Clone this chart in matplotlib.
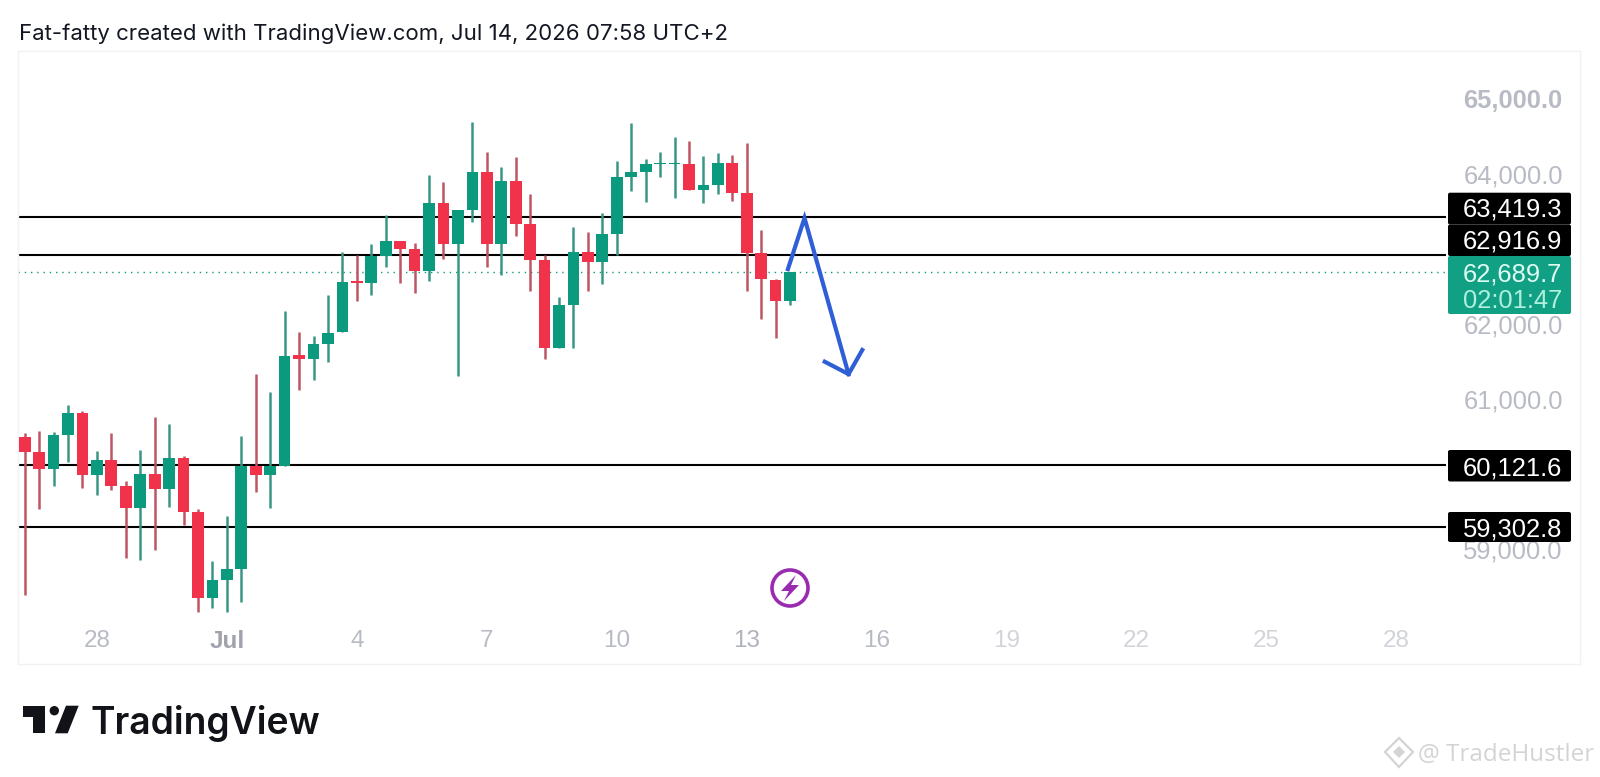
import matplotlib
matplotlib.use('Agg')
import matplotlib.pyplot as plt
from matplotlib.patches import Polygon, Circle, FancyBboxPatch

# 8h candles
opens = [60492, 60297, 60066, 60523, 60820, 59995, 60190, 59849, 59547, 60000,
         59800, 60221, 59498, 58350, 58594, 58740, 60115, 59995, 60115, 61583,
         61538, 61729, 61889, 62572, 62545, 62909, 63108, 62993, 62709, 63610,
         63064, 63521, 64018, 63064, 63902, 63330, 62851, 61676, 62252, 62962,
         62825, 63197, 63951, 64022, 64124, 64133, 64133, 63778, 63854, 64142,
         63743, 62944, 62590, 62306]
closes = [60292, 60066, 60523, 60820, 59995, 60190, 59849, 59547, 60000, 59800,
          60221, 59498, 58350, 58594, 58740, 60115, 59995, 60115, 61578, 61538,
          61729, 61884, 62558, 62550, 62909, 63108, 62993, 62709, 63610, 63064,
          63521, 64018, 63064, 63902, 63330, 62856, 61676, 62252, 62962, 62825,
          63193, 63951, 64018, 64124, 64137, 64146, 63778, 63849, 64142, 63743,
          62949, 62594, 62306, 62690]
highs = [60545, 60581, 60558, 60926, 60847, 60314, 60545, 59915, 60323, 60758,
         60665, 60248, 59534, 58851, 59445, 60510, 61334, 61095, 62177, 61893,
         61844, 62386, 62953, 62913, 63064, 63445, 63108, 63073, 63982, 63893,
         63521, 64683, 64293, 64093, 64226, 63729, 62913, 62363, 63286, 63228,
         63472, 64173, 64678, 64195, 64284, 64492, 64434, 64235, 64270, 64244,
         64408, 63250, 62603, 62690]
lows = [58394, 59534, 59844, 60159, 59822, 59725, 59791, 58891, 58860, 58993,
        59565, 59325, 58172, 58221, 58172, 58305, 59769, 59556, 60115, 61122,
        61250, 61490, 61889, 62306, 62390, 62754, 62550, 62408, 62572, 62860,
        61308, 63361, 62754, 62652, 63175, 62439, 61530, 61676, 61676, 62439,
        62527, 62913, 63769, 63627, 63951, 63672, 63778, 63614, 63734, 63636,
        62439, 62066, 61813, 62248]

levels = [63419.3, 62916.9, 60121.6, 59302.8]
last_price = 62689.7

# 63,000 and 60,000 sit behind the black level labels in the reference
price_ticks = [65000, 64000, 62000, 61000, 59000]
date_pos = [5, 14, 23, 32, 41, 50, 59, 68, 77, 86, 95]
date_labels = ['28', 'Jul', '4', '7', '10', '13', '16', '19', '22', '25', '28']
date_colors = ['#b8bbc4', '#a0a3ac', '#b8bbc4', '#b8bbc4', '#b8bbc4', '#b0b3bc',
               '#b8bbc4', '#d2d4da', '#d2d4da', '#d2d4da', '#d2d4da']

# hand drawn forecast arrow (candle index, price)
arrow_x = [52.85, 54, 57.05]
arrow_y = [62730, 63410, 61333]
head_x = [55.4, 57.05, 58]
head_y = [61498, 61333, 61654]

GREEN = '#0c9a7e'
RED = '#f0334a'
WICK_GREEN = '#3a9684'
WICK_RED = '#bd5664'
GREY = '#b8bbc4'

W, H = 1600, 777
fig = plt.figure(figsize=(W / 100, H / 100), dpi=100, facecolor='white')
plt.rcParams['font.family'] = ['Liberation Sans', 'DejaVu Sans']

# chart pane is x 18-1580, y 51-664 in pixels
ax = fig.add_axes([18 / W, 1 - 664 / H, (1580 - 18) / W, (664 - 51) / H])
ax.set_xlim(-0.464, 107.7)
ax.set_ylim(57476, 65632)
for s in ax.spines.values():
    s.set_color('#f0f2f6')
    s.set_linewidth(1)

line_end = 98.43
for lv in levels:
    ax.plot([-0.464, line_end], [lv, lv], color='black', lw=1.5, zorder=1, solid_capstyle='butt')
ax.plot([-0.464, line_end], [last_price, last_price], color=GREEN, lw=1, ls=(0, (1, 3.5)), zorder=1)

for i in range(len(opens)):
    up = closes[i] >= opens[i]
    ax.plot([i, i], [lows[i], highs[i]], color=WICK_GREEN if up else WICK_RED, lw=1.8, zorder=2,
            solid_capstyle='butt')
    bottom = min(opens[i], closes[i])
    ax.bar(i, abs(closes[i] - opens[i]), bottom=bottom, width=0.81, color=GREEN if up else RED,
           linewidth=0, zorder=3)

ax.plot(arrow_x, arrow_y, color='#2f5fd6', lw=3, zorder=5, solid_joinstyle='miter')
ax.plot(head_x, head_y, color='#2f5fd6', lw=3, zorder=5, solid_joinstyle='miter')

ax.set_xticks(date_pos)
ax.set_xticklabels(date_labels)
ax.set_yticks(price_ticks)
ax.set_yticklabels(['{:,.1f}'.format(p) for p in price_ticks])
ax.yaxis.tick_right()
ax.tick_params(axis='x', length=0, pad=-24.5, labelsize=17.5)
ax.tick_params(axis='y', length=0, pad=-84, labelsize=18.4, labelcolor=GREY)
for lab, c in zip(ax.get_xticklabels(), date_colors):
    lab.set_color(c)
    if lab.get_text() == 'Jul':
        lab.set_fontweight('bold')
for lab in ax.get_yticklabels():
    lab.set_va('center_baseline')
    if lab.get_text().startswith('65'):
        lab.set_fontweight('bold')

# overlay in pixel coordinates for labels, logo and watermark
ov = fig.add_axes([0, 0, 1, 1], facecolor='none')
ov.set_xlim(0, W)
ov.set_ylim(H, 0)
ov.axis('off')

boxes = [(192.7, 224.5, 'black'), (224.5, 256, 'black'), (256, 314, '#12a085'),
         (450, 481.5, 'black'), (512, 542, 'black')]
for top, bot, col in boxes:
    ov.add_patch(FancyBboxPatch((1449, top + 1), 121, bot - top - 2, boxstyle='round,pad=1,rounding_size=2',
                                fc=col, ec=col, lw=0, zorder=4))
labels = [('63,419.3', 207, 'white'), ('62,916.9', 239, 'white'), ('62,689.7', 272, '#dffcf3'),
          ('02:01:47', 298, '#aef0dd'), ('60,121.6', 466, 'white'), ('59,302.8', 527, 'white')]
for txt, y, col in labels:
    ov.text(1463, y, txt, color=col, fontsize=18.4, ha='left', va='center_baseline', zorder=5)

# lightning icon
ov.add_patch(Circle((790, 588), 18, fc='white', ec='#9a2bb0', lw=2.6, zorder=4))
ov.add_patch(Polygon([(796, 575), (781, 591), (789, 591), (784, 601), (799, 585), (791, 585)],
                     closed=True, fc='#9a2bb0', ec='none', zorder=5))

ov.text(19, 33.5, 'Fat-fatty created with TradingView.com, Jul 14, 2026 07:58 UTC+2',
        fontsize=16, fontfamily='Inter', color='#131722', ha='left', va='center')

# TradingView logo
logo = '#111318'
ov.add_patch(Polygon([(22.7, 705.7), (45, 705.7), (45, 733.3), (33.3, 733.3), (33.3, 716.7), (22.7, 716.7)],
                     closed=True, fc=logo, ec='none'))
ov.add_patch(Circle((54.3, 710.7), 4.7, fc=logo, ec='none'))
ov.add_patch(Polygon([(66, 705.7), (78.7, 705.7), (67.7, 733.3), (55, 733.3)], closed=True, fc=logo, ec='none'))
ov.text(91, 720, 'TradingView', fontsize=26.8, fontfamily='Inter', fontweight='semibold', color=logo,
        ha='left', va='center_baseline')

# watermark
wm = '#d4d4d4'
ov.add_patch(Polygon([(1399, 738), (1413, 752), (1399, 767), (1385, 752)], closed=True, fc='none', ec=wm, lw=1.6))
ov.add_patch(Polygon([(1399, 746), (1405, 752), (1399, 758), (1393, 752)], closed=True, fc=wm, ec='none'))
ov.text(1418, 752, '@ TradeHustler', fontsize=17.5, fontfamily='Open Sans', color=wm, ha='left', va='center_baseline')

fig.savefig('out.png', dpi=100, facecolor='white')
